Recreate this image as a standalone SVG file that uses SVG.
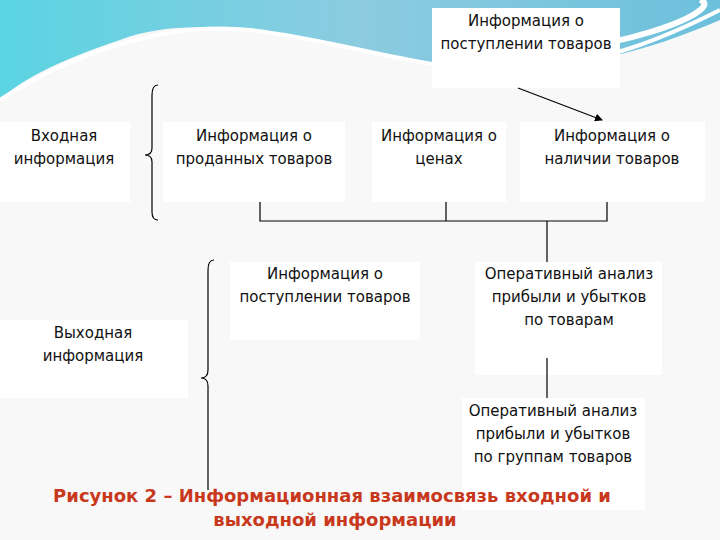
<svg xmlns="http://www.w3.org/2000/svg" width="720" height="540" viewBox="0 0 720 540">
<defs>
<linearGradient id="sky" x1="0" y1="0" x2="1" y2="0"><stop offset="0" stop-color="#5ad4e2"/><stop offset="0.5" stop-color="#8ccbe0"/><stop offset="1" stop-color="#6cc0dc"/></linearGradient>
<marker id="ah" markerWidth="8" markerHeight="8" refX="7" refY="4" orient="auto" markerUnits="userSpaceOnUse"><path d="M0,0 L8,4 L0,8 z" fill="#000"/></marker>
<style>
.box{fill:#fff}
.t{font-family:"DejaVu Sans","Liberation Sans",sans-serif;font-size:15px;fill:#111;text-anchor:middle}
.ln{stroke:#000;stroke-width:1.2;fill:none}
.cap{font-family:"DejaVu Sans","Liberation Sans",sans-serif;font-size:18px;font-weight:bold;fill:#c8381c;text-anchor:middle}
</style>
</defs>
<rect width="720" height="540" fill="#f8f8f8"/>
<path d="M0,0 H720 V20 C650,50 560,80 430,62 C300,40 200,10 120,40 C60,60 20,80 0,100 Z" fill="url(#sky)"/>
<path d="M0,100 C60,60 160,20 250,30 C340,40 420,70 500,70 C600,70 680,30 720,10" fill="none" stroke="#fff" stroke-width="4"/>
<path d="M700,0 C730,10 600,60 500,50" fill="none" stroke="#fff" stroke-width="6"/>
<g id="n-top"><rect class="box" x="432" y="8" width="188" height="80"/><text class="t" x="526" y="26">Информация о</text><text class="t" x="526" y="49">поступлении товаров</text></g>
<g id="n-in"><rect class="box" x="0" y="122" width="130" height="80"/><text class="t" x="64" y="141">Входная</text><text class="t" x="64" y="164">информация</text></g>
<g id="n-sold"><rect class="box" x="163" y="122" width="182" height="80"/><text class="t" x="254" y="141">Информация о</text><text class="t" x="254" y="164">проданных товаров</text></g>
<g id="n-price"><rect class="box" x="372" y="122" width="134" height="80"/><text class="t" x="439" y="141">Информация о</text><text class="t" x="439" y="164">ценах</text></g>
<g id="n-avail"><rect class="box" x="520" y="122" width="185" height="80"/><text class="t" x="612" y="141">Информация о</text><text class="t" x="612" y="164">наличии товаров</text></g>
<g id="n-recv"><rect class="box" x="230" y="262" width="190" height="78"/><text class="t" x="325" y="279">Информация о</text><text class="t" x="325" y="302">поступлении товаров</text></g>
<g id="n-op1"><rect class="box" x="475" y="262" width="187" height="113"/><text class="t" x="569" y="279">Оперативный анализ</text><text class="t" x="569" y="302">прибыли и убытков</text><text class="t" x="569" y="325">по товарам</text></g>
<g id="n-out"><rect class="box" x="0" y="320" width="188" height="78"/><text class="t" x="93" y="338">Выходная</text><text class="t" x="93" y="361">информация</text></g>
<g id="n-op2"><rect class="box" x="462" y="398" width="183" height="112"/><text class="t" x="553" y="416">Оперативный анализ</text><text class="t" x="553" y="439">прибыли и убытков</text><text class="t" x="553" y="462">по группам товаров</text></g>
<g id="connectors">
<path class="ln" d="M518,88 L602,120" marker-end="url(#ah)"/>
<path class="ln" d="M260,202 V221 H607 V202 M446,202 V221 M547,221 V262 M547,358 V398"/>
<path class="ln" d="M158,85 Q152,85 152,95 V148 Q152,155 145,155 Q152,155 152,162 V212 Q152,220 158,220"/>
<path class="ln" d="M214,260 Q208,260 208,270 V370 Q208,378 201,378 Q208,378 208,386 V490"/>
</g>
<text class="cap" x="332" y="502">Рисунок 2 – Информационная взаимосвязь входной и</text>
<text class="cap" x="335" y="526">выходной информации</text>
</svg>
